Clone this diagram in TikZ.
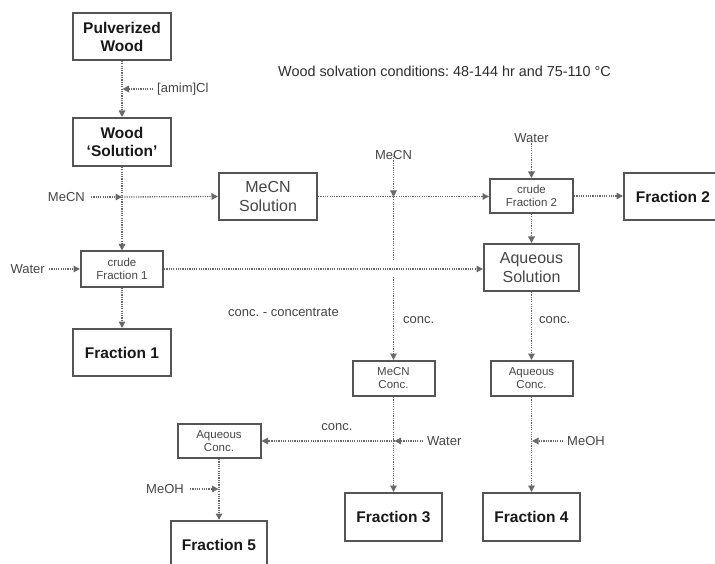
\documentclass[tikz,border=0pt]{standalone}
\usepackage{fontspec}
\setmainfont{Liberation Sans}
\usetikzlibrary{arrows.meta}
\frenchspacing
\definecolor{boxc}{RGB}{85,85,85}
\definecolor{linec}{RGB}{105,105,105}
\definecolor{txtc}{RGB}{70,70,70}
\definecolor{boldc}{RGB}{25,25,25}
\tikzset{
  boxbase/.style={draw=boxc,line width=2pt,inner sep=0pt,align=center,fill=white},
  bbox/.style={boxbase,font=\fontsize{15.5}{18}\selectfont\bfseries,text=boldc},
  rbox/.style={boxbase,font=\fontsize{16}{18.5}\selectfont,text=txtc},
  sbox/.style={boxbase,font=\fontsize{11.5}{13}\selectfont,text=txtc},
  lab/.style={font=\fontsize{13}{15}\selectfont,text=txtc,inner sep=0pt},
  flowline/.style={draw=linec,line width=1.3pt,dash pattern=on 1.2pt off 1.1pt},
  flow/.style={flowline,-{Triangle[length=6.5pt,width=6.5pt]}}
}
\begin{document}
\begin{tikzpicture}[x=1pt,y=-1pt]
\useasboundingbox (0,0) rectangle (715,564);
\fill[white] (0,0) rectangle (715,564);

% boxes
\node[bbox,minimum width=98pt,minimum height=47pt] (pw) at (122,36.5) {Pulverized\\Wood};
\node[bbox,minimum width=98pt,minimum height=48pt] (ws) at (122,142) {Wood\\‘Solution’};
\node[rbox,minimum width=98pt,minimum height=47pt] (ms) at (268,196.5) {MeCN\\Solution};
\node[sbox,minimum width=82pt,minimum height=35pt] (cf1) at (122,269) {crude\\Fraction 1};
\node[bbox,minimum width=98pt,minimum height=47pt] (f1) at (122,352.5) {Fraction 1};
\node[sbox,minimum width=83pt,minimum height=34pt] (cf2) at (531.5,196) {crude\\Fraction 2};
\node[bbox,minimum width=98pt,minimum height=47pt] (f2) at (673,196.5) {Fraction 2};
\node[rbox,minimum width=95pt,minimum height=47pt] (as) at (531.5,267.5) {Aqueous\\Solution};
\node[sbox,minimum width=82pt,minimum height=35pt] (mc) at (393.5,378.5) {MeCN\\Conc.};
\node[sbox,minimum width=82pt,minimum height=35pt] (ac) at (531.5,378.5) {Aqueous\\Conc.};
\node[bbox,minimum width=97pt,minimum height=48pt] (f3) at (393.5,517) {Fraction 3};
\node[bbox,minimum width=97pt,minimum height=48pt] (f4) at (531.5,517) {Fraction 4};
\node[sbox,minimum width=83pt,minimum height=34pt] (ac2) at (219,441) {Aqueous\\Conc.};
\node[bbox,minimum width=96pt,minimum height=48pt] (f5) at (219,545) {Fraction 5};

% labels
\node[font=\fontsize{14.4}{16}\selectfont,text={rgb,255:red,45;green,45;blue,45},anchor=west,inner sep=0pt] (title) at (278,71) {Wood solvation conditions: 48-144 hr and 75-110 °C};
\node[lab,anchor=west] (amim) at (157,89) {[amim]Cl};
\node[lab,anchor=east] (mecn1) at (85,197) {MeCN};
\node[lab,anchor=east] (water1) at (45,269) {Water};
\node[lab] (mecn2) at (393.5,155) {MeCN};
\node[lab] (water2) at (531.5,138) {Water};
\node[lab,anchor=west] (concdef) at (228,312) {conc. - concentrate};
\node[lab,anchor=west] (conc1) at (403,320) {conc.};
\node[lab,anchor=west] (conc2) at (539,320) {conc.};
\node[lab,anchor=west] (water3) at (427,441) {Water};
\node[lab] (conc3) at (337,427) {conc.};
\node[lab,anchor=east] (meoh1) at (184,489) {MeOH};
\node[lab,anchor=west] (meoh2) at (567,441) {MeOH};

% junction coordinates
\coordinate (jam) at (122.5,89);
\coordinate (j1) at (122,197);
\coordinate (j2) at (393.5,197);
\coordinate (g1) at (393.5,260);
\coordinate (g2) at (393.5,277);
\coordinate (j3) at (394.5,441);
\coordinate (j4) at (218.5,489);
\coordinate (j5) at (532,441);

% connectors
\draw[flow] (pw.south) -- (ws.north);
\draw[flow] ([xshift=-4pt]amim.west) -- (jam);
\draw[flow] (ws.south) -- (cf1.north);
\draw[flow] ([xshift=6pt]mecn1.east) -- (j1);
\draw[flow] (j1) -- (ms.west);
\draw[flow] ([xshift=4pt]water1.east) -- (cf1.west);
\draw[flow] (cf1.south) -- (f1.north);
\draw[flow] (cf1.east) -- (as.west |- cf1.east);
\draw[flow] (ms.east) -- (cf2.west |- ms.east);
\draw[flow] ([yshift=4pt]mecn2.south) -- (j2);
\draw[flowline] (j2) -- (g1);
\draw[flow] (g2) -- (mc.north);
\draw[flow] ([yshift=4pt]water2.south) -- (cf2.north);
\draw[flow] (cf2.east) -- (f2.west |- cf2.east);
\draw[flow] (cf2.south) -- (as.north);
\draw[flow] (as.south) -- (ac.north);
\draw[flow] (ac.south) -- (f4.north);
\draw[flow] ([xshift=-4pt]meoh2.west) -- (j5);
\draw[flow] (mc.south) -- (f3.north);
\draw[flow] ([xshift=-4pt]water3.west) -- (j3);
\draw[flow] (j3) -- (ac2.east);
\draw[flow] (ac2.south) -- (f5.north);
\draw[flow] ([xshift=6pt]meoh1.east) -- (j4);
\end{tikzpicture}
\end{document}
